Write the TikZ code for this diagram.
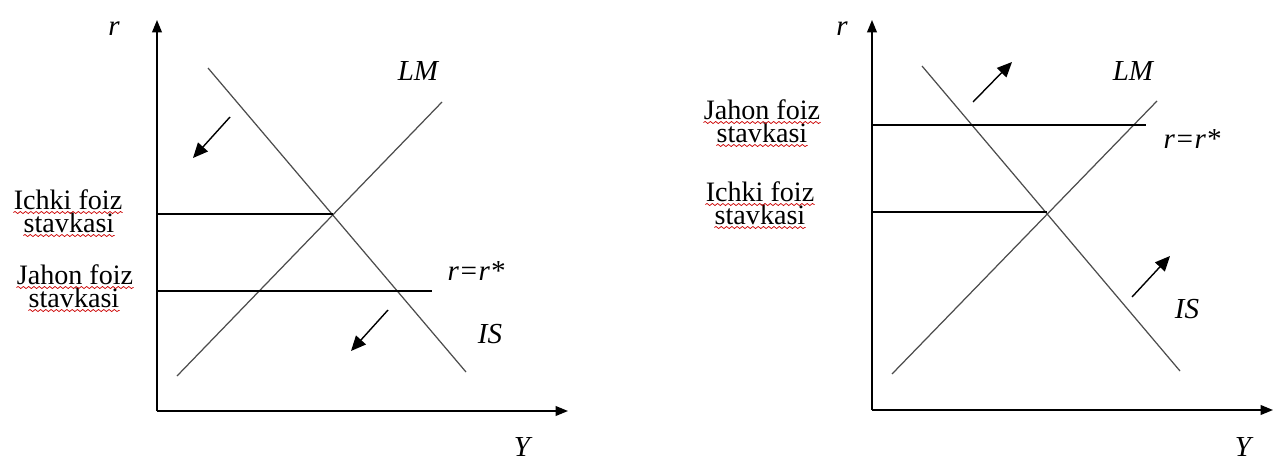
\documentclass[tikz,border=0pt]{standalone}
\usepackage{fontspec}
\setmainfont{Liberation Serif}
\usetikzlibrary{arrows.meta, decorations.pathmorphing}

\begin{document}
\begin{tikzpicture}[
			x=0.02cm, y=-0.02cm,
			axis/.style={-{Triangle[length=7pt, width=5.5pt]}, line width=0.9pt},
			curve/.style={line width=0.7pt, draw=black!70},
			rate/.style={line width=0.8pt},
			movearrow/.style={-{Triangle[length=8.5pt, width=7.5pt]}, line width=0.8pt},
			word/.style={inner sep=0pt, anchor=base, font=\fontsize{16}{16}\selectfont},
			curvename/.style={inner sep=0pt, anchor=base, font=\fontsize{16.5}{16}\selectfont\itshape},
			wavy/.style={draw=red!80!black, line width=0.4pt, decorate, decoration={snake, segment length=3pt, amplitude=0.6pt}}
			]
			
			\useasboundingbox (0,0) rectangle (1274,463);
			
			% left panel
			\coordinate (oL) at (157,411);
			\coordinate (rL) at (157,20);
			\coordinate (yL) at (568,411);
			\coordinate (isLa) at (208,68);
			\coordinate (isLb) at (466,372);
			\coordinate (lmLa) at (177,376);
			\coordinate (lmLb) at (442,102);
			\coordinate (eqL) at (333,214);
			\coordinate (inL) at (157,214);
			\coordinate (wdLa) at (157,291);
			\coordinate (wdLb) at (432,291);
			\coordinate (shLa) at (230,117);
			\coordinate (shLb) at (193,158);
			\coordinate (shLc) at (388,310);
			\coordinate (shLd) at (351,351);
			
			\draw[axis] (oL) -- (rL);
			\draw[axis] (oL) -- (yL);
			\draw[curve] (isLa) -- (isLb);
			\draw[curve] (lmLa) -- (lmLb);
			\draw[rate] (inL) -- (eqL);
			\draw[rate] (wdLa) -- (wdLb);
			\draw[movearrow] (shLa) -- (shLb);
			\draw[movearrow] (shLc) -- (shLd);
			
			\node[curvename] (rnameL) at (114,35) {r};
			\node[curvename] (ynameL) at (522,456) {Y};
			\node[curvename] (lmnameL) at (418,80) {LM};
			\node[curvename] (isnameL) at (490,343) {IS};
			\node[curvename] (starL) at (476,280) {r=r*};
			
			\node[word] (inL1) at (68,209) {Ichki foiz};
			\node[word] (inL2) at (69,232) {stavkasi};
			\node[word] (wdL1) at (75,284) {Jahon foiz};
			\node[word] (wdL2) at (74,307) {stavkasi};
			
			% right panel
			\coordinate (oR) at (872,410);
			\coordinate (rR) at (872,20);
			\coordinate (yR) at (1273,410);
			\coordinate (isRa) at (922,66);
			\coordinate (isRb) at (1180,371);
			\coordinate (lmRa) at (892,374);
			\coordinate (lmRb) at (1157,101);
			\coordinate (eqR) at (1047,212);
			\coordinate (inR) at (872,212);
			\coordinate (wdRa) at (872,125);
			\coordinate (wdRb) at (1146,125);
			\coordinate (shRa) at (973,102);
			\coordinate (shRb) at (1012,62);
			\coordinate (shRc) at (1132,297);
			\coordinate (shRd) at (1170,256);
			
			\draw[axis] (oR) -- (rR);
			\draw[axis] (oR) -- (yR);
			\draw[curve] (isRa) -- (isRb);
			\draw[curve] (lmRa) -- (lmRb);
			\draw[rate] (inR) -- (eqR);
			\draw[rate] (wdRa) -- (wdRb);
			\draw[movearrow] (shRa) -- (shRb);
			\draw[movearrow] (shRc) -- (shRd);
			
			\node[curvename] (rnameR) at (842,35) {r};
			\node[curvename] (ynameR) at (1243,456) {Y};
			\node[curvename] (lmnameR) at (1133,80) {LM};
			\node[curvename] (isnameR) at (1187,318) {IS};
			\node[curvename] (starR) at (1192,148) {r=r*};
			
			\node[word] (wdR1) at (762,119) {Jahon foiz};
			\node[word] (wdR2) at (762,142) {stavkasi};
			\node[word] (inR1) at (760,201) {Ichki foiz};
			\node[word] (inR2) at (760,224) {stavkasi};
			
			% spelling marks
			\draw[wavy] ([yshift=-2pt]inL1.base west) -- ([yshift=-2pt]inL1.base east);
			\draw[wavy] ([yshift=-2pt]inL2.base west) -- ([yshift=-2pt]inL2.base east);
			\draw[wavy] ([yshift=-2pt]wdL1.base west) -- ([yshift=-2pt]wdL1.base east);
			\draw[wavy] ([yshift=-2pt]wdL2.base west) -- ([yshift=-2pt]wdL2.base east);
			\draw[wavy] ([yshift=-2pt]wdR1.base west) -- ([yshift=-2pt]wdR1.base east);
			\draw[wavy] ([yshift=-2pt]wdR2.base west) -- ([yshift=-2pt]wdR2.base east);
			\draw[wavy] ([yshift=-2pt]inR1.base west) -- ([yshift=-2pt]inR1.base east);
			\draw[wavy] ([yshift=-2pt]inR2.base west) -- ([yshift=-2pt]inR2.base east);
		\end{tikzpicture}
\end{document}
